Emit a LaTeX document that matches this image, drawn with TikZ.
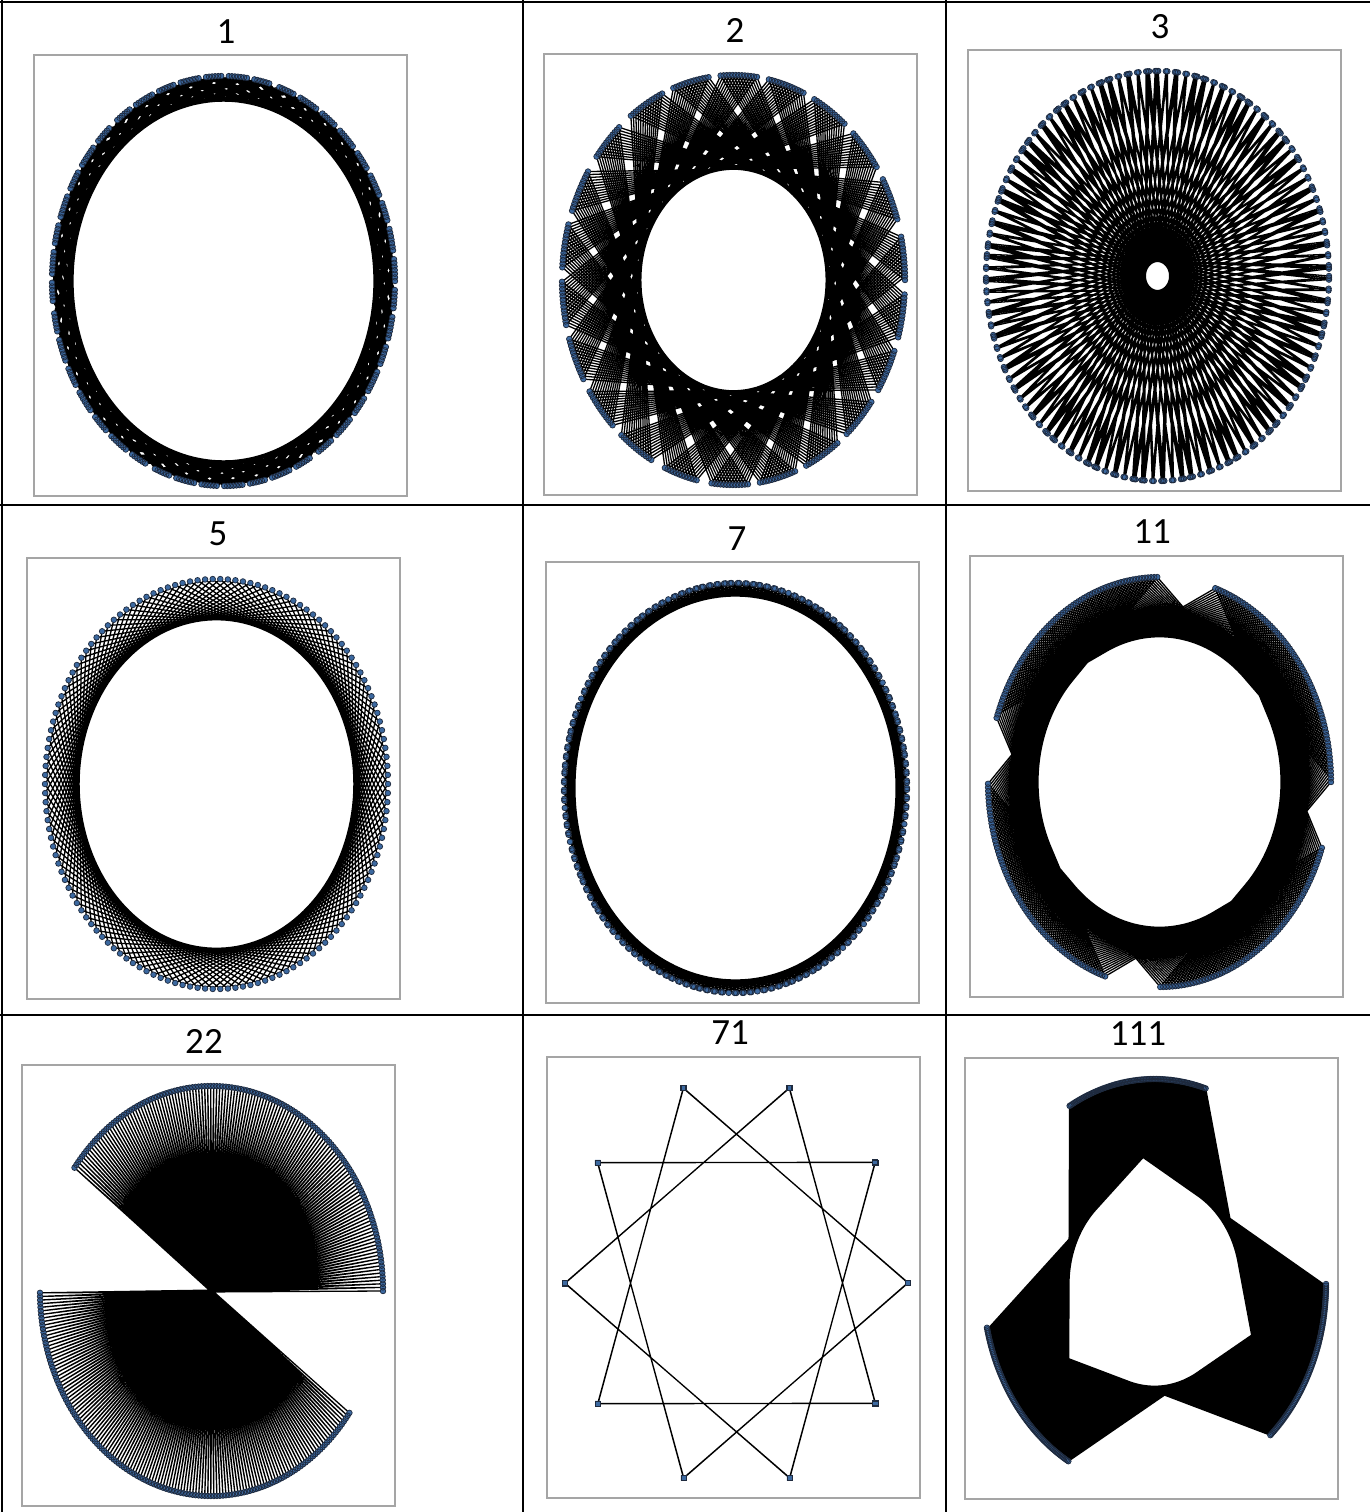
\documentclass[tikz,border=0pt]{standalone}
\usepackage{fontspec}
\setmainfont{Carlito}
\definecolor{mk}{RGB}{60,105,160}
\definecolor{mkb}{RGB}{30,42,62}
\definecolor{frm}{RGB}{165,165,165}
\tikzset{
  chord/.style={line width=1.3pt, black, line join=round},
  dot/.style={fill=mk, draw=mkb, line width=0.7pt},
  chartframe/.style={draw=frm, line width=1.6pt},
  gridline/.style={line width=2.4pt, black},
  ttl/.style={font=\fontsize{37}{40}\selectfont, inner sep=0pt}
}
\newcommand\NPTS{283}
\newcommand\spiro[6]{%
  \gdef\linepath{}\gdef\dotpath{}%
  \foreach \i in {0,...,\NPTS}{%
    \edef\px{\fpeval{round(#2+#4*cos(\i*#1),2)}}%
    \edef\py{\fpeval{round(#3-#5*sin(\i*#1),2)}}%
    \ifnum\i=0 \xdef\linepath{(\px,\py)}\else\xdef\linepath{\linepath -- (\px,\py)}\fi
    \xdef\dotpath{\dotpath (\px,\py) #6}%
  }%
  \draw[chord] \linepath;
  \path[dot] \dotpath;
}
% panel: k, frame x0, frame y0, title x, title y, marker
\newcommand\panel[6]{%
  \draw[chartframe] (#2,#3) rectangle ++(373,441);
  \node[ttl] (t#1) at (#4,#5) {#1};
  \spiro{#1}{#2+189.5}{#3+226}{171.5}{205}{#6}%
}
\begin{document}
\begin{tikzpicture}[x=1pt,y=-1pt]
\useasboundingbox[fill=white] (0,0) rectangle (1370,1512);
% table grid
\draw[gridline] (0,2) -- (1370,2);
\draw[gridline] (0,505) -- (1370,505);
\draw[gridline] (0,1015) -- (1370,1015);
\draw[gridline] (2,0) -- (2,1512);
\draw[gridline] (523,0) -- (523,1512);
\draw[gridline] (946,0) -- (946,1512);
\def\cm{circle[radius=2.8]}
\def\sq{+(-2.6,-2.6) rectangle +(2.6,2.6)}
\panel{1}{34}{55}{226}{32}{\cm}
\panel{2}{544}{54}{735}{30}{\cm}
\panel{3}{968}{50}{1160}{27}{\cm}
\panel{5}{27}{558}{218}{534}{\cm}
\panel{7}{546}{562}{737}{539}{\cm}
\panel{11}{970}{556}{1152}{532}{\cm}
\panel{22}{22}{1065}{204}{1041}{\cm}
\panel{71}{547}{1057}{730}{1033}{\sq}
\panel{111}{965}{1058}{1138}{1034}{\cm}
\end{tikzpicture}
\end{document}
